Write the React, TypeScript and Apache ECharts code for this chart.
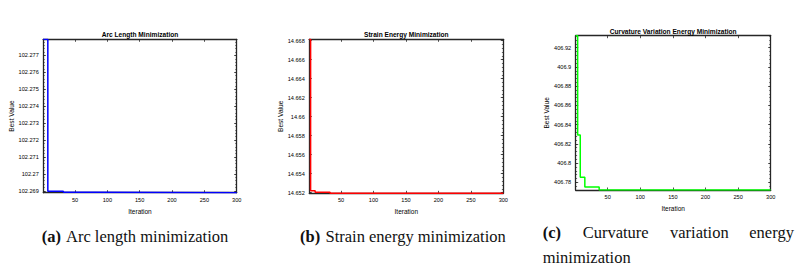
import React, { useEffect, useRef } from "react";
import * as echarts from "echarts";

// Iteration breakpoints and best values (step curves)
const ITER_ARC = [1, 8, 32, 79, 300];
const VAL_ARC = [102.27795, 102.26897, 102.26892, 102.26889, 102.26889];
const ITER_STRAIN = [1, 3, 10, 33, 300];
const VAL_STRAIN = [14.66815, 14.65221, 14.65204, 14.65194, 14.65194];
const ITER_CURV = [1, 4, 8, 15, 37, 300];
const VAL_CURV = [406.9325, 406.8292, 406.7852, 406.7751, 406.772, 406.772];

const X_TICKS = [50, 100, 150, 200, 250, 300];
const Y_TICKS_ARC = [102.269, 102.27, 102.271, 102.272, 102.273, 102.274, 102.275, 102.276, 102.277];
const Y_TICKS_STRAIN = [14.652, 14.654, 14.656, 14.658, 14.66, 14.662, 14.664, 14.666, 14.668];
const Y_TICKS_CURV = [406.78, 406.8, 406.82, 406.84, 406.86, 406.88, 406.9, 406.92];

const TITLES = ["Arc Length Minimization", "Strain Energy Minimization", "Curvature Variation Energy Minimization"];

const AX = "#262626";
const FONT = "'Liberation Sans', Arial, sans-serif";
const SERIF = "'Liberation Serif', 'Times New Roman', Times, serif";

function minorTicks(majors: number[], min: number, max: number): number[] {
  const step = (majors[1] - majors[0]) / 5;
  const out: number[] = [];
  for (let v = majors[0] - step * 10; v <= max + 1e-12; v += step) {
    if (v >= min - 1e-12) out.push(v);
  }
  return out;
}

export default function App() {
  const ref = useRef<HTMLDivElement>(null);
  useEffect(() => {
    if (!ref.current) return;
    const chart = echarts.init(ref.current, undefined, { renderer: "svg" });

    const panels = [
      { iters: ITER_ARC, vals: VAL_ARC, yt: Y_TICKS_ARC, min: 102.26889, max: 102.27795, color: "#0000ff", dec: 3,
        grid: { left: 43.3, top: 39.3, width: 193.4, height: 153.4 }, titleTop: 31.2, nameGap: 25.2 },
      { iters: ITER_STRAIN, vals: VAL_STRAIN, yt: Y_TICKS_STRAIN, min: 14.65194, max: 14.66815, color: "#ff0000", dec: 3,
        grid: { left: 309.3, top: 39.3, width: 194, height: 154 }, titleTop: 31.2, nameGap: 24.2 },
      { iters: ITER_CURV, vals: VAL_CURV, yt: Y_TICKS_CURV, min: 406.772, max: 406.9325, color: "#00ff00", dec: 2,
        grid: { left: 575.7, top: 35.7, width: 195, height: 154.3 }, titleTop: 28.2, nameGap: 23.3 },
    ];

    const grids: any[] = [];
    const xAxes: any[] = [];
    const yAxes: any[] = [];
    const series: any[] = [];
    const titles: any[] = [];

    panels.forEach((p, i) => {
      grids.push({ ...p.grid, containLabel: false });
      titles.push({
        text: TITLES[i],
        left: p.grid.left + p.grid.width / 2,
        top: p.titleTop,
        textAlign: "center",
        padding: 0,
        textStyle: { fontFamily: FONT, fontSize: 6.6, fontWeight: "bold", color: "#000" },
      });
      const xBase = {
        type: "value", gridIndex: i, min: 1, max: 300,
        splitLine: { show: false },
        axisLine: { show: true, onZero: false, lineStyle: { color: AX, width: 1.3 } },
        axisTick: { show: true, inside: true, length: 2.5, customValues: X_TICKS, lineStyle: { color: AX, width: 0.8 } },
      };
      const xBottomIdx = xAxes.length;
      xAxes.push({
        ...xBase, position: "bottom",
        name: "Iteration", nameLocation: "middle", nameGap: 12.8,
        nameTextStyle: { fontFamily: FONT, fontSize: 6.5, color: "#000" },
        axisLabel: { show: true, customValues: X_TICKS, margin: 4, fontFamily: FONT, fontSize: 5.6, color: "#000" },
      });
      xAxes.push({ ...xBase, position: "top", axisLabel: { show: false } });

      const minors = minorTicks(p.yt, p.min, p.max);
      const yBase = {
        type: "value", gridIndex: i, min: p.min, max: p.max, scale: true,
        splitLine: { show: false },
      };
      const fmt = (v: number) => String(parseFloat(v.toFixed(p.dec)));
      const yLeftIdx = yAxes.length;
      yAxes.push({
        ...yBase, position: "left",
        name: "Best Value", nameLocation: "middle", nameGap: p.nameGap, nameRotate: 90,
        nameTextStyle: { fontFamily: FONT, fontSize: 6.6, color: "#000" },
        axisLine: { show: true, onZero: false, lineStyle: { color: AX, width: 1.3 } },
        axisTick: { show: true, inside: true, length: 2.5, customValues: p.yt, lineStyle: { color: AX, width: 0.8 } },
        axisLabel: { show: true, customValues: p.yt, margin: 4.5, formatter: fmt, fontFamily: FONT, fontSize: 5.6, color: "#000" },
      });
      yAxes.push({
        ...yBase, position: "left",
        axisLine: { show: false },
        axisTick: { show: true, inside: true, length: 1.4, customValues: minors, lineStyle: { color: AX, width: 0.7 } },
        axisLabel: { show: false },
      });
      yAxes.push({
        ...yBase, position: "right",
        axisLine: { show: true, onZero: false, lineStyle: { color: AX, width: 1.3 } },
        axisTick: { show: true, inside: true, length: 2.5, customValues: p.yt, lineStyle: { color: AX, width: 0.8 } },
        axisLabel: { show: false },
      });
      yAxes.push({
        ...yBase, position: "right",
        axisLine: { show: false },
        axisTick: { show: true, inside: true, length: 1.4, customValues: minors, lineStyle: { color: AX, width: 0.7 } },
        axisLabel: { show: false },
      });

      series.push({
        type: "line",
        xAxisIndex: xBottomIdx,
        yAxisIndex: yLeftIdx,
        step: "end",
        showSymbol: false,
        clip: true,
        data: p.iters.map((x, k) => [x, p.vals[k]]),
        lineStyle: { color: p.color, width: 1.5 },
        itemStyle: { color: p.color },
        z: 1,
      });
    });

    const cap = (text: string, x: number, y: number, bold = false) => ({
      type: "text", x, y,
      style: { text, fontFamily: SERIF, fontSize: 16.5, fontWeight: bold ? "bold" : "normal", fill: "#111", verticalAlign: "middle", align: "left" },
    });

    const graphic = [
      cap("(a)", 41.7, 236, true),
      cap("Arc length minimization", 66, 236),
      cap("(b)", 300, 236, true),
      cap("Strain energy minimization", 325.5, 236),
      cap("(c)", 542.7, 232.5, true),
      cap("Curvature", 582.7, 232.5),
      cap("variation", 670, 232.5),
      cap("energy", 749.3, 232.5),
      cap("minimization", 542.7, 257.5),
    ];

    chart.setOption({
      animation: false,
      backgroundColor: "#fff",
      title: titles,
      grid: grids,
      xAxis: xAxes,
      yAxis: yAxes,
      series,
      graphic,
    });
    return () => chart.dispose();
  }, []);
  return (
    <div
      ref={ref}
      style={{ position: "fixed", left: 0, top: 0, width: 806, height: 280, background: "#fff" }}
    />
  );
}
